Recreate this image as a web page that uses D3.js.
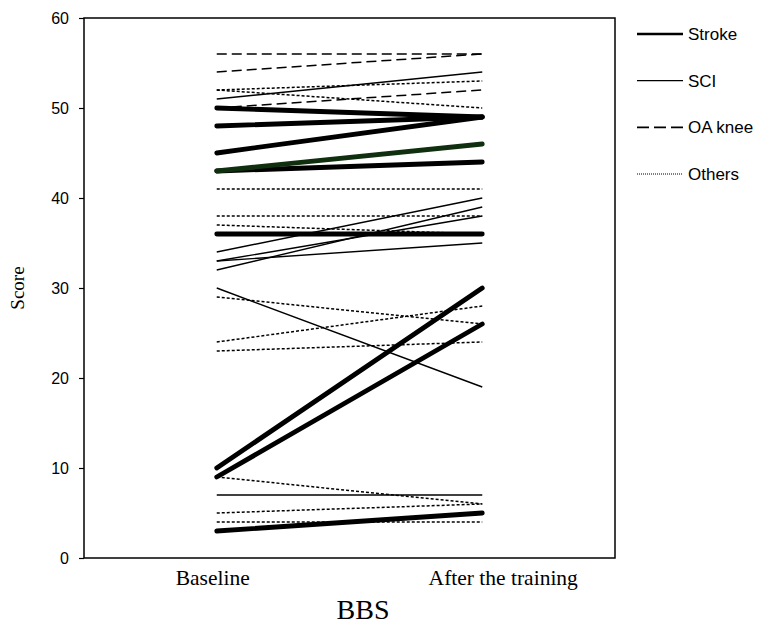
<!DOCTYPE html>
<html><head><meta charset="utf-8">
<script src="https://cdn.jsdelivr.net/npm/d3@7"></script>
<style>body{margin:0;background:#fff}svg{display:block}</style>
</head><body>
<svg id="c" width="780" height="629"></svg>
<script>
const categories = ["Baseline", "After the training"];
const yTicks = [0, 10, 20, 30, 40, 50, 60];
// [baseline, after] per patient
const stroke = [[50,49],[48,49],[45,49],[43,44],[36,36],[10,30],[9,26],[3,5]];
const strokeGreen = [[43,46]];
const sci = [[51,54],[34,40],[33,38],[33,35],[32,39],[30,19],[7,7]];
const oaKnee = [[56,56],[54,56],[50,52]];
const others = [[52,53],[52,50],[41,41],[38,38],[37,36],[29,26],[24,28],[23,24],[9,6],[5,6],[4,4]];
const legendNames = ["Stroke", "SCI", "OA knee", "Others"];

const svg = d3.select("#c");
const L = 84, R = 615, T = 18, B = 558;
const x = d3.scalePoint().domain(categories).range([L, R]).padding(0.5);
const y = d3.scaleLinear().domain([0, 60]).range([B, T]);

const styles = {
  Stroke: {w: 4.8, dash: null},
  SCI: {w: 1.4, dash: null},
  "OA knee": {w: 1.5, dash: "10,5"},
  Others: {w: 1.5, dash: "3,2"}
};

const line = d3.line().x((d, i) => x(categories[i])).y(d => y(d));
function drawSet(data, st, color) {
  svg.append("g").selectAll("path").data(data).join("path")
    .attr("d", d => line(d))
    .attr("fill", "none")
    .attr("stroke", color || "#000")
    .attr("stroke-width", st.w)
    .attr("stroke-linecap", st.w > 3 ? "round" : "butt")
    .attr("stroke-dasharray", st.dash);
}
drawSet(others, styles.Others);
drawSet(oaKnee, styles["OA knee"]);
drawSet(sci, styles.SCI);
drawSet(stroke, styles.Stroke);
drawSet(strokeGreen, styles.Stroke, "#0f2f0f");

// frame
svg.append("rect").attr("x", L).attr("y", T).attr("width", R - L).attr("height", B - T)
  .attr("fill", "none").attr("stroke", "#000").attr("stroke-width", 1.5);

// y axis
const yAxis = d3.axisLeft(y).tickValues(yTicks).tickSize(5).tickPadding(10);
const gy = svg.append("g").attr("transform", `translate(${L},0)`).call(yAxis);
gy.select(".domain").remove();
gy.selectAll(".tick line").attr("stroke", "#000").attr("stroke-width", 1.2);
gy.selectAll(".tick text").attr("font-family", "Liberation Sans, Arial, sans-serif")
  .attr("font-size", 16).attr("fill", "#000");

// x labels
const labelShift = {"Baseline": -4, "After the training": 21};
svg.append("g").selectAll("text").data(categories).join("text")
  .attr("x", d => x(d) + labelShift[d]).attr("y", 585)
  .attr("text-anchor", "middle")
  .attr("font-family", "Liberation Serif, Times New Roman, serif")
  .attr("font-size", 21.5).text(d => d);

svg.append("text").attr("x", 363).attr("y", 619).attr("text-anchor", "middle")
  .attr("font-family", "Liberation Serif, Times New Roman, serif")
  .attr("font-size", 28).text("BBS");

svg.append("text").attr("transform", "translate(24,288) rotate(-90)")
  .attr("text-anchor", "middle")
  .attr("font-family", "Liberation Serif, Times New Roman, serif")
  .attr("font-size", 19).text("Score");

// legend
const legY = d3.scalePoint().domain(legendNames).range([34, 174]);
const lg = svg.append("g");
legendNames.forEach(n => {
  const st = n === "Stroke" ? {w: 2.4, dash: null} : n === "Others" ? {w: 1, dash: "1,1"}
    : n === "OA knee" ? {w: 1.6, dash: "12,5"} : styles[n];
  lg.append("line").attr("x1", 637).attr("x2", 683).attr("y1", legY(n)).attr("y2", legY(n))
    .attr("stroke", "#000").attr("stroke-width", st.w).attr("stroke-dasharray", st.dash);
  lg.append("text").attr("x", 688).attr("y", legY(n)).attr("dy", "0.35em")
    .attr("font-family", "Liberation Sans, Arial, sans-serif").attr("font-size", 17).text(n);
});
</script>
</body></html>
